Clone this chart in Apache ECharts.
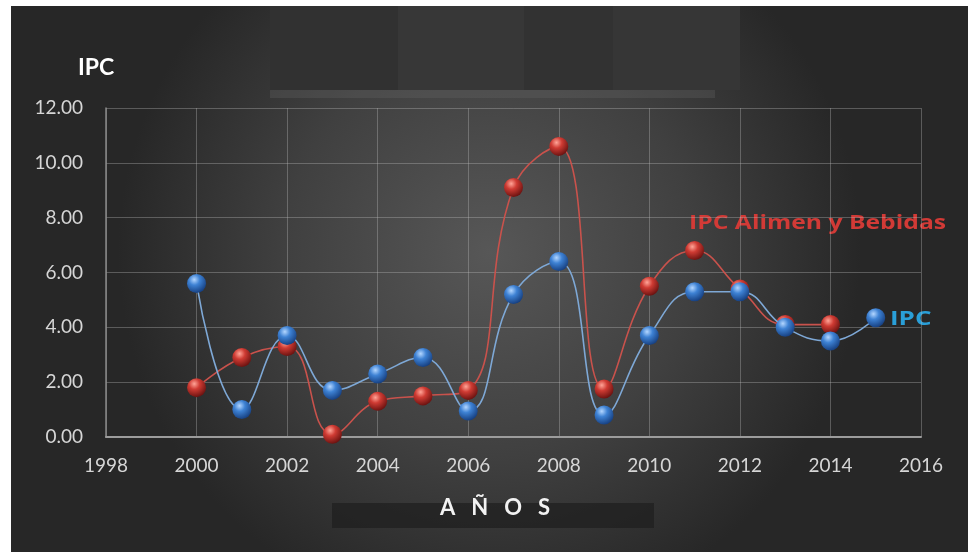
<!DOCTYPE html>
<html>
<head>
<meta charset="utf-8">
<script src="https://cdn.jsdelivr.net/npm/echarts@6/dist/echarts.min.js"></script>
<style>
  html, body { margin: 0; padding: 0; background: #ffffff; }
  #chart { width: 968px; height: 552px; }
</style>
</head>
<body>
<div id="chart"></div>
<script>
// Años de la serie
const years = [2000, 2001, 2002, 2003, 2004, 2005, 2006, 2007, 2008, 2009, 2010, 2011, 2012, 2013, 2014, 2015];
// IPC general (%)
const ipc = [5.6, 1.0, 3.7, 1.7, 2.3, 2.9, 0.95, 5.2, 6.4, 0.8, 3.7, 5.3, 5.3, 4.0, 3.5, 4.35];
// IPC Alimentos y Bebidas (%), hasta 2014
const ipcAlim = [1.8, 2.9, 3.3, 0.1, 1.3, 1.5, 1.7, 9.1, 10.6, 1.75, 5.5, 6.8, 5.4, 4.1, 4.1];

const FONT = 'Lato, "Open Sans", sans-serif';

function sphere(light, mid, dark) {
  return {
    type: 'radial', x: 0.38, y: 0.3, r: 0.72,
    colorStops: [
      { offset: 0, color: light },
      { offset: 0.4, color: mid },
      { offset: 1, color: dark }
    ]
  };
}

const ipcPairs = years.map((y, i) => [y, ipc[i]]);
const alimPairs = ipcAlim.map((v, i) => [years[i], v]);

const chart = echarts.init(document.getElementById('chart'));

chart.setOption({
  backgroundColor: '#ffffff',
  animation: false,
  graphic: [
    // fondo oscuro con brillo central
    {
      type: 'rect', z: -10, silent: true,
      shape: { x: 11, y: 6, width: 957, height: 546 },
      style: {
        fill: {
          type: 'radial', x: 0.5, y: 0.45, r: 0.68,
          colorStops: [
            { offset: 0, color: '#575757' },
            { offset: 0.55, color: '#404040' },
            { offset: 1, color: '#272727' }
          ]
        }
      }
    },
    // bloques de la parte superior
    { type: 'rect', z: -9, silent: true, shape: { x: 270, y: 6, width: 128, height: 84 }, style: { fill: '#313131' } },
    { type: 'rect', z: -9, silent: true, shape: { x: 398, y: 6, width: 126, height: 84 }, style: { fill: '#373737' } },
    { type: 'rect', z: -9, silent: true, shape: { x: 524, y: 6, width: 89, height: 84 }, style: { fill: '#323232' } },
    { type: 'rect', z: -9, silent: true, shape: { x: 613, y: 6, width: 127, height: 84 }, style: { fill: '#363636' } },
    { type: 'rect', z: -9, silent: true, shape: { x: 270, y: 90, width: 445, height: 8 }, style: { fill: 'rgba(110,110,110,0.25)' } },
    // banda del título del eje X
    { type: 'rect', z: -9, silent: true, shape: { x: 332, y: 503, width: 322, height: 25 }, style: { fill: 'rgba(30,30,30,0.7)' } },
    // título del eje Y
    {
      type: 'text', left: 78, top: 56,
      style: { text: 'IPC', fill: '#ffffff', font: 'bold 23px ' + FONT }
    },
    // título del eje X
    {
      type: 'text', x: 495, y: 508,
      style: {
        text: 'A   Ñ   O   S', fill: '#f2f2f2', font: 'bold 22px ' + FONT,
        align: 'center', verticalAlign: 'middle'
      }
    },
    // rótulo de la serie de alimentos
    {
      type: 'text', x: 689, y: 224, scaleX: 1.3,
      style: {
        text: 'IPC Alimen y Bebidas', fill: '#d23a36',
        font: 'bold 19px "Open Sans", sans-serif', verticalAlign: 'middle'
      }
    },
    // rótulo de la serie general
    {
      type: 'text', x: 890, y: 319, scaleX: 1.3,
      style: {
        text: 'IPC', fill: '#2a9fd8',
        font: 'bold 20px "Open Sans", sans-serif', verticalAlign: 'middle'
      }
    }
  ],
  grid: { left: 106, right: 47, top: 108, bottom: 115 },
  xAxis: {
    type: 'value', min: 1998, max: 2016, interval: 2,
    axisLine: { show: true, lineStyle: { color: '#9c9c9c', width: 2 } },
    axisTick: { show: false },
    axisLabel: { color: '#d6d6d6', fontSize: 19, fontFamily: FONT, margin: 19, formatter: v => String(v) },
    splitLine: { show: true, lineStyle: { color: 'rgba(190,190,190,0.35)', width: 1 } }
  },
  yAxis: {
    type: 'value', min: 0, max: 12, interval: 2,
    axisLine: { show: true, lineStyle: { color: '#8a8a8a', width: 1.5 } },
    axisTick: { show: false },
    axisLabel: { color: '#d6d6d6', fontSize: 19, fontFamily: FONT, margin: 23, formatter: v => v.toFixed(2) },
    splitLine: { show: true, lineStyle: { color: 'rgba(190,190,190,0.35)', width: 1 } }
  },
  series: [
    {
      name: 'IPC Alimen y Bebidas', type: 'line', smooth: 0.45,
      data: alimPairs, z: 3,
      symbol: 'circle', symbolSize: 19,
      lineStyle: { color: '#c9524c', width: 1.6 },
      itemStyle: { color: sphere('#ffa497', '#cf3b33', '#6a1210'), borderWidth: 0 }
    },
    {
      name: 'IPC', type: 'line', smooth: 0.45,
      data: ipcPairs, z: 4,
      symbol: 'circle', symbolSize: 19,
      lineStyle: { color: '#7ea8d6', width: 1.6 },
      itemStyle: { color: sphere('#b3d6ff', '#3e82d4', '#163f80'), borderWidth: 0 }
    }
  ]
});
</script>
</body>
</html>
